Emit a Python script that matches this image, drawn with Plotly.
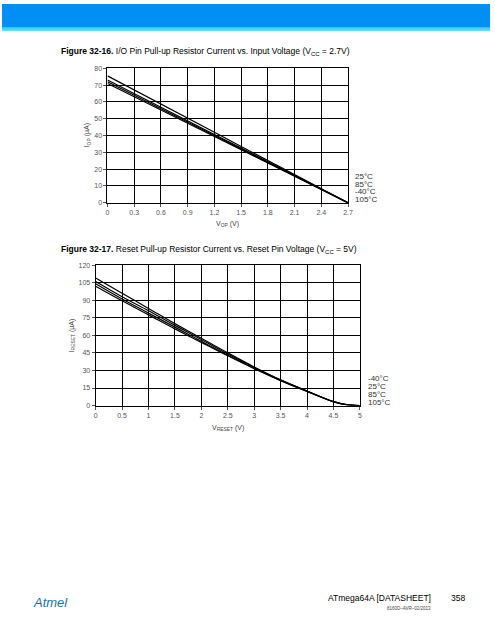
import plotly.graph_objects as go

# Figure 32-16
v_op = [0, 0.3, 0.6, 0.9, 1.2, 1.5, 1.8, 2.1, 2.4, 2.7]
i_op_m40 = [75.5, 67.2, 58.8, 50.4, 42.0, 33.5, 25.0, 16.6, 8.2, 0]
i_op_25 = [73.0, 65.0, 57.0, 48.8, 40.6, 32.5, 24.3, 16.2, 8.1, 0]
i_op_85 = [72.0, 64.0, 56.0, 48.0, 40.0, 32.0, 24.0, 16.0, 8.0, 0]
i_op_105 = [71.0, 63.2, 55.3, 47.4, 39.5, 31.6, 23.7, 15.8, 7.9, 0]
legend1 = ["25°C", "85°C", "-40°C", "105°C"]

# Figure 32-17
v_reset = [0, 0.5, 1, 1.5, 2, 2.5, 3, 3.5, 4, 4.5, 4.75, 5]
i_reset_a = [109, 96, 83, 70, 57.5, 45, 33, 22, 12.5, 3.5, 0.8, 0]
i_reset_b = [106, 93, 81, 68.5, 56.5, 44, 32.5, 21.8, 12.3, 3.4, 0.8, 0]
i_reset_c = [104, 91, 79, 67, 55, 43, 32, 21.5, 12.2, 3.3, 0.7, 0]
i_reset_d = [102, 89.5, 77.5, 65.5, 54, 42.5, 31.5, 21.3, 12, 3.2, 0.7, 0]
legend2 = ["-40°C", "25°C", "85°C", "105°C"]

W, H = 495, 640
def px(x): return x / W
def py(y): return 1 - y / H

fig = go.Figure()
for ys in [i_op_m40, i_op_25, i_op_85, i_op_105]:
    fig.add_trace(go.Scatter(x=v_op, y=ys, mode="lines", line=dict(color="black", width=1.2),
                             xaxis="x", yaxis="y", showlegend=False, hoverinfo="skip"))
for ys in [i_reset_a, i_reset_b, i_reset_c, i_reset_d]:
    fig.add_trace(go.Scatter(x=v_reset, y=ys, mode="lines", line=dict(color="black", width=1.2, shape="spline"),
                             xaxis="x2", yaxis="y2", showlegend=False, hoverinfo="skip"))

tickf = dict(family="Liberation Sans", size=7, color="#555")
ax_common = dict(showgrid=True, gridcolor="black", gridwidth=1, showline=True, linecolor="black",
                 linewidth=1, mirror=True, zeroline=False, tickfont=tickf, ticks="outside",
                 ticklen=3, tickcolor="#555")
fig.update_layout(
    width=W, height=H, margin=dict(l=0, r=0, t=0, b=0),
    paper_bgcolor="white", plot_bgcolor="white",
    xaxis=dict(domain=[px(107), px(351)], range=[0, 2.7], tickvals=v_op,
               ticktext=["0", "0.3", "0.6", "0.9", "1.2", "1.5", "1.8", "2.1", "2.4", "2.7"],
               anchor="y", **ax_common),
    yaxis=dict(domain=[py(201), py(65)], range=[0, 80], dtick=10, anchor="x", **ax_common),
    xaxis2=dict(domain=[px(95), px(363)], range=[0, 5], dtick=0.5, anchor="y2", **ax_common),
    yaxis2=dict(domain=[py(406), py(264)], range=[0, 120], dtick=15, anchor="x2", **ax_common),
)

shapes = [
    dict(type="rect", xref="paper", yref="paper", x0=0, x1=1, y0=py(24), y1=1,
         fillcolor="#0090F5", line=dict(width=0), layer="below"),
    dict(type="rect", xref="paper", yref="paper", x0=0, x1=1, y0=py(27), y1=py(24),
         fillcolor="#40D8F8", line=dict(width=0), layer="below"),
]
fig.update_layout(shapes=shapes)

F = "Liberation Sans"
ann = []
def t(x, y, text, size=8, color="black", xa="left", ya="middle", angle=0):
    ann.append(dict(xref="paper", yref="paper", x=px(x), y=py(y), text=text, showarrow=False,
                    xanchor=xa, yanchor=ya, textangle=angle,
                    font=dict(family=F, size=size, color=color)))

t(58, 48, "<b>Figure 32-16.</b> I/O Pin Pull-up Resistor Current vs. Input Voltage (V<sub>CC</sub> = 2.7V)", 8.5)
t(229, 222, "V<sub>OP</sub> (V)", 7, "#444", "center")
t(86, 133, "I<sub>OP</sub> (µA)", 7, "#444", "center", angle=-90)
for i, s in enumerate(legend1):
    t(356, 174 + i * 8, s, 8, "#333")

t(58, 248, "<b>Figure 32-17.</b> Reset Pull-up Resistor Current vs. Reset Pin Voltage (V<sub>CC</sub> = 5V)", 8.5)
t(229, 429, "V<sub>RESET</sub> (V)", 7, "#444", "center")
t(71, 335, "I<sub>RESET</sub> (µA)", 7, "#444", "center", angle=-90)
for i, s in enumerate(legend2):
    t(369, 379 + i * 8, s, 8, "#333")

t(29, 605, "<i>Atmel</i>", 13, "#1a6fb5")
t(437, 601, "ATmega64A [DATASHEET]", 8.5, "black", "right")
t(453, 601, "358", 8.5, "black")
t(437, 611, "8160D–AVR–02/2013", 4.5, "#444", "right")
fig.update_layout(annotations=ann)

fig.write_html("out.html", config={"displayModeBar": False},
               post_script="document.body.style.margin='0';")
